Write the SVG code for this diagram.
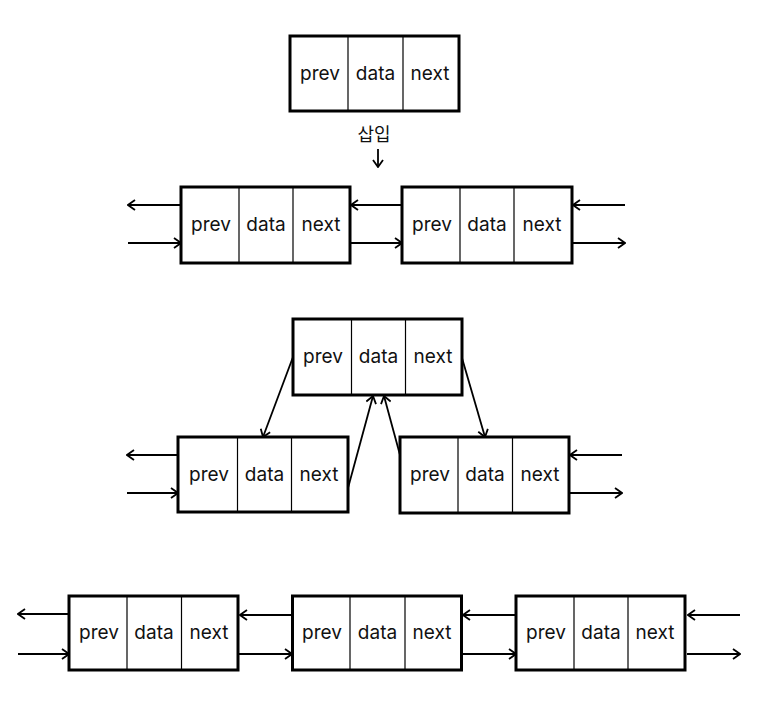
<svg xmlns="http://www.w3.org/2000/svg" width="774" height="708" viewBox="0 0 774 708">
<style>
.box{fill:#fff;stroke:#000;stroke-width:3}
.div{stroke:#000;stroke-width:1.2}
.t{font-family:Inter,"Noto Sans","Noto Sans CJK KR",sans-serif;font-size:19px;fill:#111;text-anchor:middle}
.k{font-family:"Noto Sans CJK KR",sans-serif;font-size:18px;fill:#111;text-anchor:middle}
.c{stroke:#000;stroke-width:1.8;fill:none;marker-end:url(#arr)}
</style>
<defs>
<marker id="arr" viewBox="0 0 12 12" refX="11" refY="6" markerWidth="12" markerHeight="12" orient="auto" markerUnits="userSpaceOnUse">
<path d="M4,1 L11,6 L4,11" fill="none" stroke="#000" stroke-width="1.8"/>
</marker>
</defs>
<rect width="774" height="708" fill="#fff"/>
<g id="connectors">
<line class="c" x1="378" y1="149" x2="378" y2="167"/>
<line class="c" x1="181" y1="205" x2="128" y2="205"/>
<line class="c" x1="128" y1="243" x2="181" y2="243"/>
<line class="c" x1="402" y1="205" x2="351" y2="205"/>
<line class="c" x1="350" y1="243" x2="402" y2="243"/>
<line class="c" x1="625" y1="205" x2="573" y2="205"/>
<line class="c" x1="572" y1="243" x2="625" y2="243"/>
<line class="c" x1="293" y1="357" x2="263" y2="437"/>
<line class="c" x1="348" y1="488" x2="373" y2="396"/>
<line class="c" x1="400" y1="455" x2="384" y2="396"/>
<line class="c" x1="462" y1="358" x2="485" y2="437"/>
<line class="c" x1="178" y1="455" x2="127" y2="455"/>
<line class="c" x1="127" y1="493" x2="178" y2="493"/>
<line class="c" x1="622" y1="455" x2="570" y2="455"/>
<line class="c" x1="569" y1="493" x2="622" y2="493"/>
<line class="c" x1="69" y1="614" x2="18" y2="614"/>
<line class="c" x1="18" y1="654" x2="69" y2="654"/>
<line class="c" x1="292" y1="615" x2="240" y2="615"/>
<line class="c" x1="239" y1="654" x2="292" y2="654"/>
<line class="c" x1="516" y1="615" x2="463" y2="615"/>
<line class="c" x1="462" y1="654" x2="516" y2="654"/>
<line class="c" x1="740" y1="615" x2="688" y2="615"/>
<line class="c" x1="687" y1="654" x2="740" y2="654"/>
</g>
<text class="k" x="374" y="141">삽입</text>
<g id="n0"><rect class="box" x="290" y="36" width="169" height="75"/><line class="div" x1="348" y1="36" x2="348" y2="111"/><line class="div" x1="403" y1="36" x2="403" y2="111"/><text class="t" x="320" y="80">prev</text><text class="t" x="375.5" y="80">data</text><text class="t" x="430" y="80">next</text></g>
<g id="n1"><rect class="box" x="181" y="187" width="169" height="76"/><line class="div" x1="239" y1="187" x2="239" y2="263"/><line class="div" x1="293" y1="187" x2="293" y2="263"/><text class="t" x="211" y="231">prev</text><text class="t" x="266" y="231">data</text><text class="t" x="321" y="231">next</text></g>
<g id="n2"><rect class="box" x="402" y="187" width="170" height="76"/><line class="div" x1="460" y1="187" x2="460" y2="263"/><line class="div" x1="514" y1="187" x2="514" y2="263"/><text class="t" x="432" y="231">prev</text><text class="t" x="487" y="231">data</text><text class="t" x="542" y="231">next</text></g>
<g id="n3"><rect class="box" x="293" y="319" width="169" height="76"/><line class="div" x1="351.5" y1="319" x2="351.5" y2="395"/><line class="div" x1="405.5" y1="319" x2="405.5" y2="395"/><text class="t" x="323" y="363">prev</text><text class="t" x="378.5" y="363">data</text><text class="t" x="433" y="363">next</text></g>
<g id="n4"><rect class="box" x="178" y="437" width="170" height="75"/><line class="div" x1="237.5" y1="437" x2="237.5" y2="512"/><line class="div" x1="291.5" y1="437" x2="291.5" y2="512"/><text class="t" x="209" y="481">prev</text><text class="t" x="264.5" y="481">data</text><text class="t" x="319" y="481">next</text></g>
<g id="n5"><rect class="box" x="400" y="437" width="169" height="76"/><line class="div" x1="458" y1="437" x2="458" y2="513"/><line class="div" x1="512.5" y1="437" x2="512.5" y2="513"/><text class="t" x="430" y="481">prev</text><text class="t" x="485" y="481">data</text><text class="t" x="540" y="481">next</text></g>
<g id="n6"><rect class="box" x="69" y="596" width="169" height="74"/><line class="div" x1="127" y1="596" x2="127" y2="670"/><line class="div" x1="181.5" y1="596" x2="181.5" y2="670"/><text class="t" x="99" y="639">prev</text><text class="t" x="154" y="639">data</text><text class="t" x="209" y="639">next</text></g>
<g id="n7"><rect class="box" x="292.5" y="596" width="169" height="74"/><line class="div" x1="350" y1="596" x2="350" y2="670"/><line class="div" x1="405" y1="596" x2="405" y2="670"/><text class="t" x="322" y="639">prev</text><text class="t" x="377.5" y="639">data</text><text class="t" x="432" y="639">next</text></g>
<g id="n8"><rect class="box" x="516" y="596" width="169" height="74"/><line class="div" x1="574" y1="596" x2="574" y2="670"/><line class="div" x1="628" y1="596" x2="628" y2="670"/><text class="t" x="546" y="639">prev</text><text class="t" x="601" y="639">data</text><text class="t" x="655" y="639">next</text></g>
</svg>
